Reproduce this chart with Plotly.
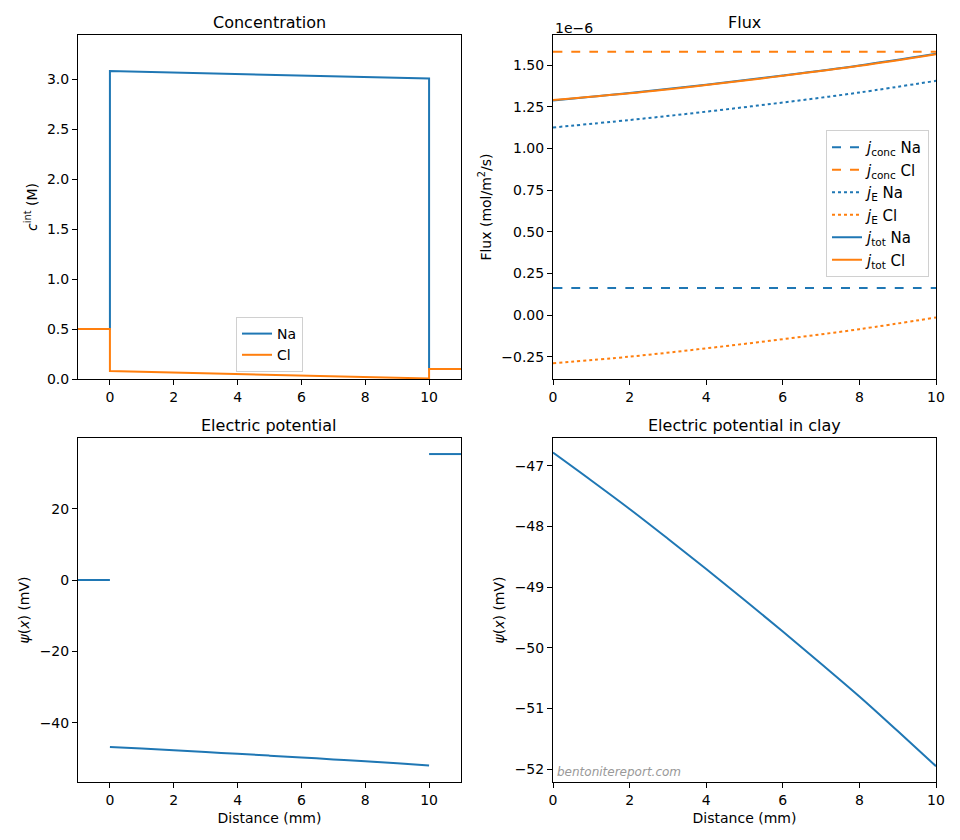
import plotly.graph_objects as go

BLUE = '#1f77b4'
ORANGE = '#ff7f0e'

# Concentration profiles (M): left reservoir | clay | right reservoir
conc_x = [-1, 0, 0, 2, 4, 6, 8, 10, 10, 11]
conc_na = [0.5, 0.5, 3.08, 3.065, 3.05, 3.035, 3.02, 3.005, 0.1, 0.1]
conc_cl = [0.5, 0.5, 0.08, 0.065, 0.05, 0.035, 0.02, 0.005, 0.1, 0.1]

# Fluxes in clay (units of 1e-6 mol/m2/s)
flux_x = [0, 2, 4, 6, 8, 10]
j_conc_na = [0.162, 0.162, 0.162, 0.162, 0.162, 0.162]
j_conc_cl = [1.58, 1.58, 1.58, 1.58, 1.58, 1.58]
j_e_na = [1.125, 1.17, 1.22, 1.275, 1.335, 1.405]
j_e_cl = [-0.29, -0.25, -0.20, -0.145, -0.085, -0.015]
j_tot_na = [1.287, 1.332, 1.382, 1.437, 1.497, 1.567]
j_tot_cl = [1.29, 1.33, 1.38, 1.435, 1.495, 1.565]

# Electric potential (mV)
res_left_x = [-1, 0]
res_left_psi = [0.0, 0.0]
clay_x = [0, 1, 2, 3, 4, 5, 6, 7, 8, 9, 10]
clay_psi = [-46.78, -47.24, -47.71, -48.20, -48.70, -49.21, -49.73, -50.26, -50.80, -51.37, -51.95]
res_right_x = [10, 11]
res_right_psi = [35.3, 35.3]

fig = go.Figure()

# --- Concentration
fig.add_trace(go.Scatter(x=conc_x, y=conc_na, mode='lines', name='Na',
                         line=dict(color=BLUE, width=2), xaxis='x', yaxis='y', legend='legend'))
fig.add_trace(go.Scatter(x=conc_x, y=conc_cl, mode='lines', name='Cl',
                         line=dict(color=ORANGE, width=2), xaxis='x', yaxis='y', legend='legend'))

# --- Flux
flux_series = [
    ('<i>j</i><sub>conc</sub> Na', j_conc_na, BLUE, 'dash'),
    ('<i>j</i><sub>conc</sub> Cl', j_conc_cl, ORANGE, 'dash'),
    ('<i>j</i><sub>E</sub> Na', j_e_na, BLUE, 'dot'),
    ('<i>j</i><sub>E</sub> Cl', j_e_cl, ORANGE, 'dot'),
    ('<i>j</i><sub>tot</sub> Na', j_tot_na, BLUE, 'solid'),
    ('<i>j</i><sub>tot</sub> Cl', j_tot_cl, ORANGE, 'solid'),
]
for name, vals, color, dash in flux_series:
    fig.add_trace(go.Scatter(x=flux_x, y=vals, mode='lines', name=name, line_shape='spline',
                             line=dict(color=color, width=2, dash=dash),
                             xaxis='x2', yaxis='y2', legend='legend2'))

# --- Electric potential (three separate segments)
for xs, ys in [(res_left_x, res_left_psi), (clay_x, clay_psi), (res_right_x, res_right_psi)]:
    fig.add_trace(go.Scatter(x=xs, y=ys, mode='lines', showlegend=False, line_shape='spline',
                             line=dict(color=BLUE, width=2), xaxis='x3', yaxis='y3'))

# --- Electric potential in clay
fig.add_trace(go.Scatter(x=clay_x, y=clay_psi, mode='lines', showlegend=False, line_shape='spline',
                         line=dict(color=BLUE, width=2), xaxis='x4', yaxis='y4'))

# page body adds an 8px margin, so the figure is a bit smaller than the window
OFF = 8
W, H = 960 - OFF, 840 - OFF


def fx(px):
    return (px - OFF) / W


def fy(py):
    return 1 - (py - OFF) / H


col_left = [fx(78), fx(461)]
col_right = [fx(553), fx(936)]
row_top = [fy(379), fy(35)]
row_bot = [fy(782), fy(438)]

axis_style = dict(showline=True, linecolor='black', linewidth=1, mirror=True, automargin=False,
                  ticks='outside', ticklen=5, tickcolor='black', showgrid=False, zeroline=False,
                  tickfont=dict(size=14, color='black'))

fig.update_layout(
    width=W, height=H,
    margin=dict(l=0, r=0, t=0, b=0),
    paper_bgcolor='white', plot_bgcolor='white',
    font=dict(family='DejaVu Sans', size=14, color='black'),
    xaxis=dict(domain=col_left, anchor='y', range=[-1, 11], dtick=2, tick0=0, **axis_style),
    yaxis=dict(domain=row_top, anchor='x', range=[0, 3.44], dtick=0.5, tickformat='.1f',
               title=dict(text='<i>c</i><sup>int</sup> (M)', font=dict(size=14), standoff=6), **axis_style),
    xaxis2=dict(domain=col_right, anchor='y2', range=[0, 10], dtick=2, **axis_style),
    yaxis2=dict(domain=row_top, anchor='x2', range=[-0.384, 1.68], dtick=0.25, tick0=0, tickformat='.2f',
                title=dict(text='Flux (mol/m<sup>2</sup>/s)', font=dict(size=14), standoff=6), **axis_style),
    xaxis3=dict(domain=col_left, anchor='y3', range=[-1, 11], dtick=2, tick0=0,
                title=dict(text='Distance (mm)', font=dict(size=14), standoff=6), **axis_style),
    yaxis3=dict(domain=row_bot, anchor='x3', range=[-56.6, 39.8], dtick=20,
                title=dict(text='<i>ψ</i>(<i>x</i>) (mV)', font=dict(size=14), standoff=6), **axis_style),
    xaxis4=dict(domain=col_right, anchor='y4', range=[0, 10], dtick=2,
                title=dict(text='Distance (mm)', font=dict(size=14), standoff=6), **axis_style),
    yaxis4=dict(domain=row_bot, anchor='x4', range=[-52.21, -46.54], dtick=1,
                title=dict(text='<i>ψ</i>(<i>x</i>) (mV)', font=dict(size=14), standoff=6), **axis_style),
    legend=dict(x=fx(269.5), y=fy(372), xanchor='center', yanchor='bottom',
                bgcolor='rgba(255,255,255,0.8)', bordercolor='#d0d0d0', borderwidth=1,
                font=dict(size=14), tracegroupgap=0),
    legend2=dict(x=fx(929), y=fy(130), xanchor='right', yanchor='top',
                 bgcolor='rgba(255,255,255,0.8)', bordercolor='#d0d0d0', borderwidth=1,
                 font=dict(size=15), tracegroupgap=0),
)

# subplot titles
titles = [('Concentration', col_left, row_top), ('Flux', col_right, row_top),
          ('Electric potential', col_left, row_bot), ('Electric potential in clay', col_right, row_bot)]
for text, cx, cy in titles:
    fig.add_annotation(text=text, x=(cx[0] + cx[1]) / 2, y=cy[1], xref='paper', yref='paper',
                       xanchor='center', yanchor='bottom', yshift=1, showarrow=False,
                       font=dict(size=16, color='black'))

# offset text for flux axis
fig.add_annotation(text='1e−6', x=col_right[0], y=row_top[1], xref='paper', yref='paper',
                   xanchor='left', yanchor='bottom', yshift=-3, showarrow=False,
                   font=dict(size=14, color='black'))

# watermark
fig.add_annotation(text='<i>bentonitereport.com</i>', x=col_right[0], y=row_bot[0], xref='paper', yref='paper',
                   xanchor='left', yanchor='bottom', xshift=2, yshift=1, showarrow=False,
                   font=dict(size=12, color='#999999'))

fig.write_html("out.html")
